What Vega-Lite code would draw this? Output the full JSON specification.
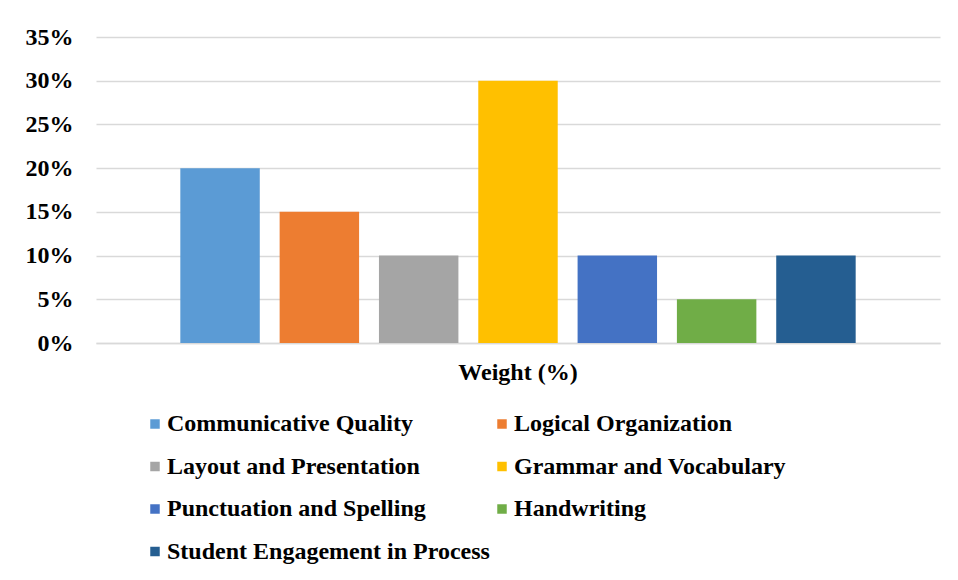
{
  "$schema": "https://vega.github.io/schema/vega-lite/v6.json",
  "autosize": {"type": "none"},
  "padding": {"left": 96, "top": 37, "right": 18, "bottom": 237},
  "width": 844,
  "height": 306,
  "background": "white",
  "data": {
    "values": [
      {"category": "Weight (%)", "criterion": "Communicative Quality", "weight": 0.20},
      {"category": "Weight (%)", "criterion": "Logical Organization", "weight": 0.15},
      {"category": "Weight (%)", "criterion": "Layout and Presentation", "weight": 0.10},
      {"category": "Weight (%)", "criterion": "Grammar and Vocabulary", "weight": 0.30},
      {"category": "Weight (%)", "criterion": "Punctuation and Spelling", "weight": 0.10},
      {"category": "Weight (%)", "criterion": "Handwriting", "weight": 0.05},
      {"category": "Weight (%)", "criterion": "Student Engagement in Process", "weight": 0.10}
    ]
  },
  "mark": {"type": "bar"},
  "encoding": {
    "x": {
      "field": "category",
      "type": "nominal",
      "scale": {"paddingInner": 0, "paddingOuter": 0.107},
      "axis": {
        "title": null,
        "labelAngle": 0,
        "labelFont": "Liberation Serif",
        "labelFontWeight": "bold",
        "labelFontSize": 24,
        "labelColor": "#000000",
        "labelPadding": 17,
        "ticks": false,
        "domainColor": "#d9d9d9",
        "domainWidth": 1.5
      }
    },
    "xOffset": {
      "field": "criterion",
      "type": "nominal",
      "sort": null,
      "scale": {"paddingInner": 0.2, "paddingOuter": 0.1}
    },
    "y": {
      "field": "weight",
      "type": "quantitative",
      "scale": {"domain": [0, 0.35], "nice": false},
      "axis": {
        "title": null,
        "format": ".0%",
        "values": [0, 0.05, 0.1, 0.15, 0.2, 0.25, 0.3, 0.35],
        "labelFont": "Liberation Serif",
        "labelFontWeight": "bold",
        "labelFontSize": 24,
        "labelColor": "#000000",
        "labelPadding": 23,
        "ticks": false,
        "domain": false,
        "gridColor": "#d9d9d9",
        "gridWidth": 1.5
      }
    },
    "color": {
      "field": "criterion",
      "type": "nominal",
      "sort": null,
      "scale": {
        "domain": ["Communicative Quality", "Logical Organization", "Layout and Presentation", "Grammar and Vocabulary", "Punctuation and Spelling", "Handwriting", "Student Engagement in Process"],
        "range": ["#5B9BD5", "#ED7D31", "#A5A5A5", "#FFC000", "#4472C4", "#70AD47", "#255E91"]
      },
      "legend": {
        "title": null,
        "orient": "none",
        "direction": "horizontal",
        "legendX": 47,
        "legendY": 375,
        "columns": 2,
        "columnPadding": -3,
        "rowPadding": 18.5,
        "symbolType": "square",
        "symbolSize": 90,
        "symbolStrokeWidth": 0,
        "symbolOpacity": 1,
        "labelFont": "Liberation Serif",
        "labelFontWeight": "bold",
        "labelFontSize": 24,
        "labelColor": "#000000",
        "labelLimit": 450,
        "labelOffset": 0
      }
    }
  },
  "config": {
    "view": {"stroke": null}
  }
}
